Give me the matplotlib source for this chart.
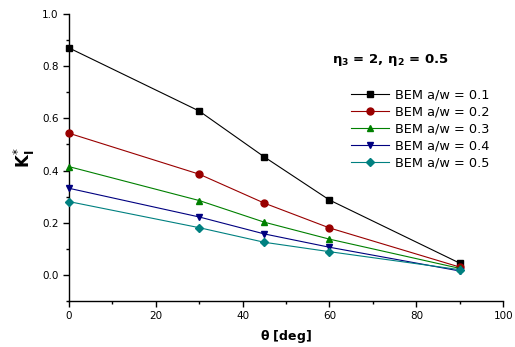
import numpy as np
import matplotlib.pyplot as plt
from matplotlib.ticker import MultipleLocator

# angle (deg) and normalised SIF for each crack ratio
theta = [0, 30, 45, 60, 90]
k_01 = [0.870, 0.628, 0.452, 0.287, 0.045]
k_02 = [0.543, 0.386, 0.275, 0.180, 0.030]
k_03 = [0.415, 0.285, 0.202, 0.137, 0.025]
k_04 = [0.332, 0.222, 0.157, 0.106, 0.015]
k_05 = [0.281, 0.181, 0.125, 0.089, 0.020]

labels = ['BEM a/w = 0.1', 'BEM a/w = 0.2', 'BEM a/w = 0.3',
          'BEM a/w = 0.4', 'BEM a/w = 0.5']
series = [k_01, k_02, k_03, k_04, k_05]
colors = ['black', '#990000', '#008000', '#000080', '#008080']
markers = ['s', 'o', '^', 'v', 'D']
msizes = [4.5, 5, 5, 5, 4.2]

fig = plt.figure(figsize=(5.15, 3.47), dpi=100)
ax = fig.add_axes([0.134, 0.1326, 0.843, 0.827])

for y, c, m, ms, lab in zip(series, colors, markers, msizes, labels):
    ax.plot(theta, y, color=c, marker=m, markersize=ms, linewidth=0.8,
            markeredgecolor=c, label=lab, clip_on=False, zorder=3)

ax.set_xlim(0, 100)
ax.set_ylim(-0.1, 1.0)
ax.xaxis.set_major_locator(MultipleLocator(20))
ax.xaxis.set_minor_locator(MultipleLocator(10))
ax.yaxis.set_minor_locator(MultipleLocator(0.1))
ax.set_yticks([0.0, 0.2, 0.4, 0.6, 0.8, 1.0])
ax.yaxis.set_major_formatter(plt.FuncFormatter(lambda v, p: '%.1f' % v))
ax.tick_params(which='major', direction='out', length=4, width=1, labelsize=7.5)
ax.tick_params(which='minor', direction='out', length=2.5, width=1)

ax.spines['top'].set_visible(False)
ax.spines['right'].set_visible(False)
ax.spines['left'].set_linewidth(1)
ax.spines['bottom'].set_linewidth(1)

ax.set_xlabel(r'$\mathbf{\theta}$ [deg]', fontsize=9, fontweight='bold', labelpad=5)
ax.set_ylabel(r'$\mathbf{K}^{*}_{\mathbf{I}}$', fontsize=12, labelpad=4)

ax.text(0.606, 0.84, r'$\mathbf{\eta_3}$ = 2, $\mathbf{\eta_2}$ = 0.5',
        transform=ax.transAxes, fontsize=9.5, fontweight='bold', va='center')

leg = ax.legend(loc='upper left', bbox_to_anchor=(0.637, 0.758), frameon=False,
                fontsize=9.3, handlelength=3.0, handletextpad=0.4,
                labelspacing=0.3, borderaxespad=0)

fig.savefig('out.png', dpi=100)
